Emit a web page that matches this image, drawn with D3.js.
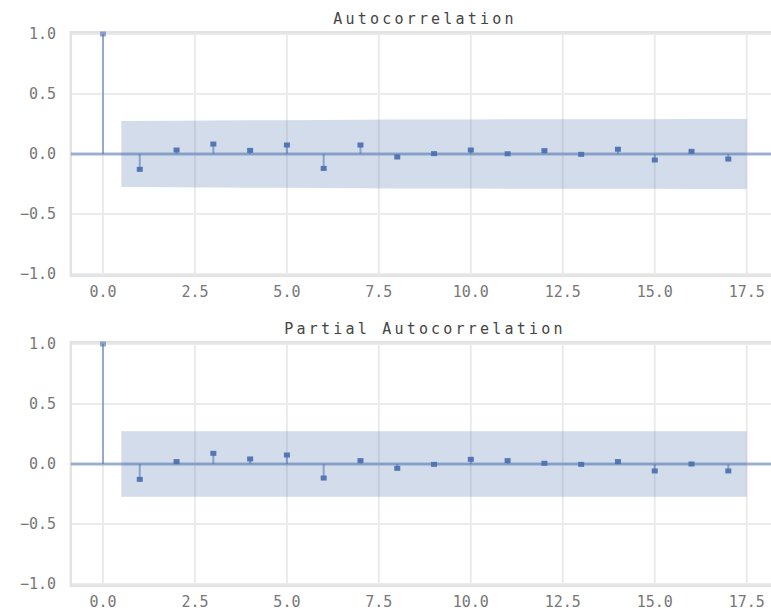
<!DOCTYPE html>
<html>
<head>
<meta charset="utf-8">
<script src="https://cdn.jsdelivr.net/npm/d3@7"></script>
<style>
  body { margin: 0; background: #fff; }
  svg { display: block; }
</style>
</head>
<body>
<svg width="771" height="615"></svg>
<script>
const lags = d3.range(0, 18);
const acfValues = [1.0, -0.128, 0.033, 0.083, 0.03, 0.075, -0.12, 0.075, -0.025, 0.003, 0.033, 0.002, 0.028, -0.003, 0.04, -0.05, 0.022, -0.042];
const pacfValues = [1.0, -0.128, 0.02, 0.089, 0.042, 0.075, -0.117, 0.028, -0.036, -0.003, 0.039, 0.028, 0.006, -0.003, 0.02, -0.058, 0.0, -0.058];
// half-width of the confidence band at lags 1..17
const acfBand = [0.275, 0.278, 0.279, 0.281, 0.281, 0.283, 0.286, 0.288, 0.288, 0.288, 0.289, 0.289, 0.289, 0.289, 0.29, 0.291, 0.291];
const pacfBand = [0.272, 0.272, 0.272, 0.272, 0.272, 0.272, 0.272, 0.272, 0.272, 0.272, 0.272, 0.272, 0.272, 0.272, 0.272, 0.272, 0.272];
const xTicks = [0, 2.5, 5, 7.5, 10, 12.5, 15, 17.5];
const yTicks = [-1, -0.5, 0, 0.5, 1];

const blue = '#4C72B0';
const svg = d3.select('svg');

const x = d3.scaleLinear()
    .domain([-0.875, 18.375])
    .range([70.8, 778.9]);

const fmt = v => d3.format('.1f')(v).replace('-', '\u2212');

function panel(title, values, band, y0) {
    const y = d3.scaleLinear()
        .domain([-1.015, 1.015])
        .range([y0 + 121.8, y0 - 121.8]);
    const g = svg.append('g');
    const [top, bottom] = [y.range()[1], y.range()[0]];

    // grid
    g.append('g').selectAll('line.gx')
        .data(xTicks).join('line')
        .attr('x1', d => x(d)).attr('x2', d => x(d))
        .attr('y1', top).attr('y2', bottom)
        .attr('stroke', '#ebebeb').attr('stroke-width', 2);
    g.append('g').selectAll('line.gy')
        .data(yTicks).join('line')
        .attr('x1', x.range()[0]).attr('x2', 771)
        .attr('y1', d => y(d)).attr('y2', d => y(d))
        .attr('stroke', '#ebebeb').attr('stroke-width', 2);

    // frame (right side is cut off by the figure edge)
    g.append('path')
        .attr('d', `M771,${top}H${x.range()[0]}V${bottom}H771`)
        .attr('fill', 'none')
        .attr('stroke', '#e3e3e3')
        .attr('stroke-width', 2.5);

    // confidence band
    const bandPts = band.map((b, i) => ({ lag: i + 1, b }));
    bandPts[0] = { lag: 0.5, b: band[0] };
    bandPts[bandPts.length - 1] = { lag: 17.5, b: band[band.length - 1] };
    g.append('path')
        .datum(bandPts)
        .attr('d', d3.area()
            .x(d => x(d.lag))
            .y0(d => y(-d.b))
            .y1(d => y(d.b)))
        .attr('fill', blue)
        .attr('fill-opacity', 0.25);

    // zero line
    g.append('line')
        .attr('x1', x.range()[0]).attr('x2', 771)
        .attr('y1', y(0)).attr('y2', y(0))
        .attr('stroke', blue).attr('stroke-opacity', 0.5)
        .attr('stroke-width', 3);

    // stems
    g.append('g').selectAll('line')
        .data(lags).join('line')
        .attr('x1', d => x(d)).attr('x2', d => x(d))
        .attr('y1', y(0)).attr('y2', d => y(values[d]))
        .attr('stroke', blue).attr('stroke-opacity', 0.55)
        .attr('stroke-width', 2);

    // markers
    g.append('g').selectAll('rect')
        .data(lags).join('rect')
        .attr('x', d => x(d) - 3).attr('y', d => y(values[d]) - 2.5)
        .attr('width', 6).attr('height', 5)
        .attr('fill', blue)
        .attr('fill-opacity', d => d === 0 ? 0.6 : 0.95);

    // tick labels
    g.append('g').selectAll('text')
        .data(yTicks).join('text')
        .attr('x', 56).attr('y', d => y(d))
        .attr('dy', '0.35em')
        .attr('text-anchor', 'end')
        .attr('font-family', 'DejaVu Sans Mono')
        .attr('font-size', 15)
        .attr('fill', '#777')
        .text(fmt);
    g.append('g').selectAll('text')
        .data(xTicks).join('text')
        .attr('x', d => x(d)).attr('y', bottom + 16)
        .attr('dy', '0.35em')
        .attr('text-anchor', 'middle')
        .attr('font-family', 'DejaVu Sans Mono')
        .attr('font-size', 15)
        .attr('fill', '#777')
        .text(fmt);

    // title
    g.append('text')
        .attr('x', 425).attr('y', top - 8)
        .attr('text-anchor', 'middle')
        .attr('font-family', 'DejaVu Sans Mono')
        .attr('font-size', 15)
        .attr('letter-spacing', 3.2)
        .attr('fill', '#444')
        .text(title);
}

panel('Autocorrelation', acfValues, acfBand, 154);
panel('Partial Autocorrelation', pacfValues, pacfBand, 464);
</script>
</body>
</html>
